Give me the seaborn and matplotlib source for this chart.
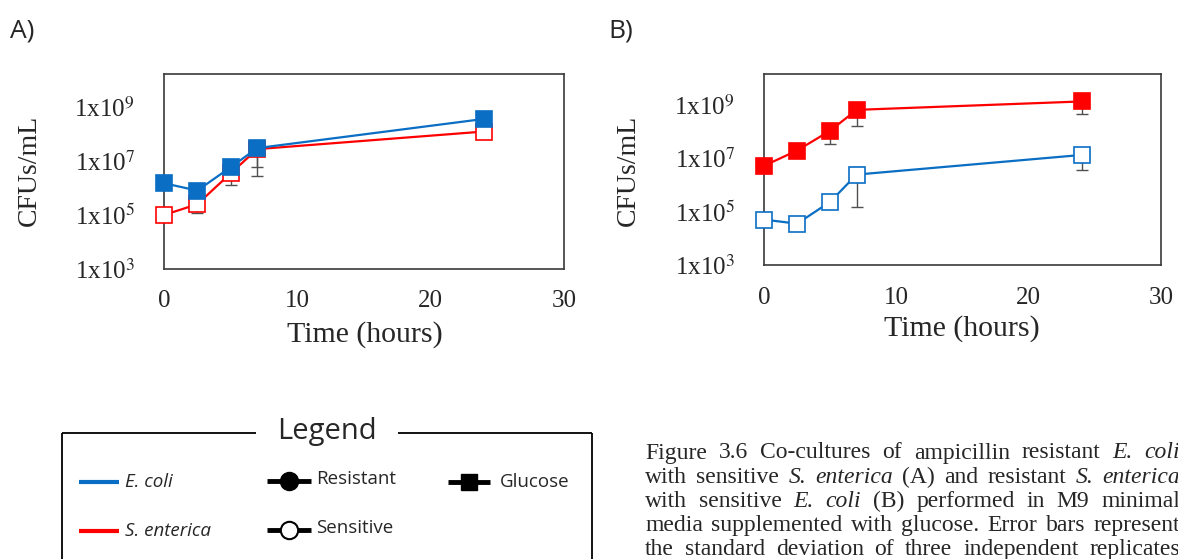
import numpy as np
import pandas as pd
import matplotlib
matplotlib.use("Agg")
import matplotlib.pyplot as plt
from matplotlib.font_manager import FontProperties
import seaborn as sns

# ---------------- data ----------------
time_h = [0, 2.5, 5, 7, 24]

# Panel A: resistant E. coli (filled) + sensitive S. enterica (open)
a_ecoli = [1.5e6, 8.0e5, 5.9e6, 3.0e7, 3.6e8]
a_sent = [1.0e5, 2.5e5, 3.5e6, 2.75e7, 1.23e8]
a_sent_lo = [1.0e5, 1.2e5, 1.3e6, 2.75e6, 1.23e8]
a_sent_hi = [1.0e5, 2.5e5, 3.5e6, 5.1e7, 1.23e8]
a_ecoli_lo = [1.5e6, 8.0e5, 5.9e6, 6.2e6, 3.6e8]

# Panel B: resistant S. enterica (filled) + sensitive E. coli (open)
b_sent = [5.1e6, 1.9e7, 1.05e8, 6.3e8, 1.3e9]
b_sent_lo = [2.8e6, 1.9e7, 3.3e7, 1.6e8, 4.4e8]
b_ecoli = [5.0e4, 3.5e4, 2.3e5, 2.4e6, 1.3e7]
b_ecoli_lo = [5.0e4, 3.5e4, 2.3e5, 1.5e5, 3.6e6]
b_ecoli_hi = [5.0e4, 3.5e4, 2.3e5, 4.6e6, 1.3e7]

x_ticks = [0, 10, 20, 30]
y_ticks = [1e3, 1e5, 1e7, 1e9]
y_tick_labels = [r"1x10$^{3}$", r"1x10$^{5}$", r"1x10$^{7}$", r"1x10$^{9}$"]

panel_labels = ["A)", "B)"]
x_label = "Time (hours)"
y_label = "CFUs/mL"

legend_title = "Legend"
caption_lines = [
    [("Figure 3.6 Co-cultures of ampicillin resistant", False), ("E. coli", True)],
    [("with sensitive", False), ("S. enterica", True), (" (A) and resistant", False), ("S. enterica", True)],
    [("with sensitive", False), ("E. coli", True), ("(B) performed in M9 minimal", False)],
    [("media supplemented with glucose. Error bars represent", False)],
    [("the standard deviation of three independent replicates", False)],
]

BLUE = "#0A6EC4"
RED = "#FF0000"
ERR = "#505050"

# ---------------- style ----------------
sns.set_style("white")
plt.rcParams["font.family"] = ["Liberation Serif", "DejaVu Serif"]
plt.rcParams["mathtext.fontset"] = "stix"

W, H = 1178, 559
fig = plt.figure(figsize=(W / 100, H / 100), dpi=100)


def ax_rect(left, top, right, bottom):
    return [left / W, 1 - bottom / H, (right - left) / W, (bottom - top) / H]


def draw_series(ax, y, color, filled, lo=None, hi=None):
    yv = np.array(y)
    if lo is not None:
        lo_a = np.array(lo)
        hi_a = np.array(hi) if hi is not None else yv
        ax.errorbar(time_h, yv, yerr=[yv - lo_a, hi_a - yv], fmt="none",
                    ecolor=ERR, elinewidth=1.0, capsize=4, capthick=1.0, zorder=2)
    df = pd.DataFrame({"t": time_h, "v": y})
    sns.lineplot(data=df, x="t", y="v", ax=ax, color=color, linewidth=1.6,
                 marker="s", markersize=12,
                 markerfacecolor=color if filled else "white",
                 markeredgecolor=color, markeredgewidth=1.2, zorder=3,
                 clip_on=False)


def style_axes(ax, ytop, xlabel_pad, ylabel_pad):
    ax.set_yscale("log")
    ax.set_xlim(0, 30)
    ax.set_ylim(1e3, ytop)
    ax.set_xticks(x_ticks)
    ax.set_xticklabels([str(v) for v in x_ticks])
    ax.set_yticks(y_ticks)
    ax.set_yticklabels(y_tick_labels)
    ax.minorticks_off()
    ax.tick_params(axis="both", length=0, labelsize=18)
    ax.tick_params(axis="x", pad=xlabel_pad)
    ax.tick_params(axis="y", pad=ylabel_pad)
    for s in ax.spines.values():
        s.set_color("#3a3a3a")
        s.set_linewidth(1.2)
        s.set_visible(True)
    ax.set_xlabel("")
    ax.set_ylabel("")


# Panel A
axA = fig.add_axes(ax_rect(164, 74, 564, 269))
draw_series(axA, a_sent, RED, False, a_sent_lo, a_sent_hi)
draw_series(axA, a_ecoli, BLUE, True, a_ecoli_lo)
style_axes(axA, 10 ** 10.22, 15, 21)

# Panel B
axB = fig.add_axes(ax_rect(764, 74, 1161, 265))
draw_series(axB, b_sent, RED, True, b_sent_lo)
draw_series(axB, b_ecoli, BLUE, False, b_ecoli_lo, b_ecoli_hi)
style_axes(axB, 10 ** 10.14, 16, 21)

# overlay for labels / legend / caption in pixel coordinates
ov = fig.add_axes([0, 0, 1, 1], zorder=-1)
ov.set_xlim(0, W)
ov.set_ylim(H, 0)
ov.axis("off")

ov.text(10, 31, panel_labels[0], fontsize=19, family=["Open Sans"], va="center", ha="left")
ov.text(608, 31, panel_labels[1], fontsize=19, family=["Open Sans"], va="center", ha="left")

ov.text(365, 335, x_label, fontsize=21.5, ha="center", va="center")
ov.text(962, 329, x_label, fontsize=21.5, ha="center", va="center")
ov.text(29, 170, y_label, fontsize=20, ha="center", va="center", rotation=90)
ov.text(628, 170, y_label, fontsize=20, ha="center", va="center", rotation=90)

# legend box
lk = dict(color="black", linewidth=1.3, solid_capstyle="butt")
ov.plot([62, 62], [433, 570], **lk)
ov.plot([592, 592], [433, 570], **lk)
ov.plot([62, 256], [433, 433], **lk)
ov.plot([398, 592], [433, 433], **lk)
ov.text(327, 431, legend_title, fontsize=21, family=["Open Sans"], ha="center", va="center")

sans = ["Open Sans"]
fs_leg = 13.5
ov.plot([79, 119], [482, 482], color=BLUE, linewidth=3, solid_capstyle="butt")
ov.text(125, 482, "E. coli", fontsize=fs_leg, family=sans, style="italic", va="center")
ov.plot([79, 119], [531, 531], color=RED, linewidth=3, solid_capstyle="butt")
ov.text(125, 531, "S. enterica", fontsize=fs_leg, family=sans, style="italic", va="center")

ov.plot([267, 311], [481, 481], color="black", linewidth=3.5, solid_capstyle="butt")
ov.plot([289], [481], marker="o", markersize=13, color="black")
ov.text(316, 479, "Resistant", fontsize=fs_leg, family=sans, va="center")
ov.plot([267, 311], [530, 530], color="black", linewidth=3.5, solid_capstyle="butt")
ov.plot([289], [530], marker="o", markersize=12.5, markerfacecolor="white",
        markeredgecolor="black", markeredgewidth=1.5)
ov.text(316, 528, "Sensitive", fontsize=fs_leg, family=sans, va="center")
ov.plot([448, 490], [482, 482], color="black", linewidth=3.5, solid_capstyle="butt")
ov.plot([469], [482], marker="s", markersize=11, color="black")
ov.text(500, 482, "Glucose", fontsize=fs_leg, family=sans, va="center")

# caption (justified)
renderer = fig.canvas.get_renderer()
cap_size = 17
fp_r = FontProperties(family="Liberation Serif", size=cap_size)
fp_i = FontProperties(family="Liberation Serif", size=cap_size, style="italic")
left_x, right_x = 645, 1180
line_y0, line_dy = 453, 24.2
for i, segs in enumerate(caption_lines):
    words = []
    for txt, ital in segs:
        for w in txt.split():
            words.append((w, ital))
    widths = []
    for w, ital in words:
        wpx, _, _ = renderer.get_text_width_height_descent(w, fp_i if ital else fp_r, ismath=False)
        widths.append(wpx)
    gap = (right_x - left_x - sum(widths)) / max(len(words) - 1, 1)
    x = left_x
    y = line_y0 + i * line_dy
    for (w, ital), wpx in zip(words, widths):
        ov.text(x, y, w, fontproperties=fp_i if ital else fp_r, va="center", ha="left")
        x += wpx + gap

fig.savefig("out.png", dpi=100)
